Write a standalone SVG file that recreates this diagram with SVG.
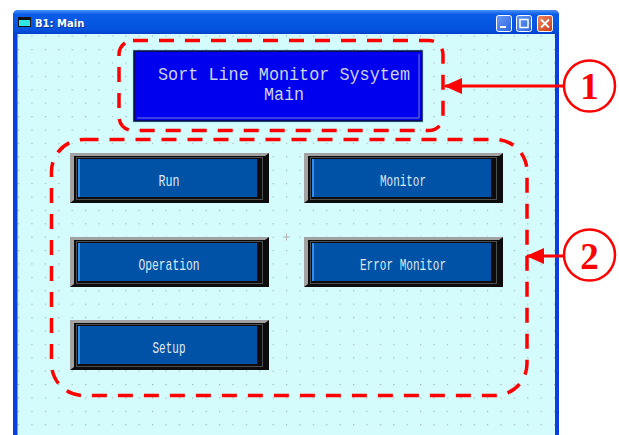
<svg xmlns="http://www.w3.org/2000/svg" width="619" height="435" viewBox="0 0 619 435">
  <defs>
    <linearGradient id="titleGrad" x1="0" y1="0" x2="0" y2="1">
      <stop offset="0" stop-color="#4a92fa"/>
      <stop offset="0.18" stop-color="#0a5ce8"/>
      <stop offset="0.8" stop-color="#0452de"/>
      <stop offset="1" stop-color="#003cc4"/>
    </linearGradient>
    <linearGradient id="btnBlue" x1="0" y1="0" x2="1" y2="1">
      <stop offset="0" stop-color="#6a9cf8"/>
      <stop offset="1" stop-color="#2a62e0"/>
    </linearGradient>
    <linearGradient id="btnRed" x1="0" y1="0" x2="1" y2="1">
      <stop offset="0" stop-color="#f08a60"/>
      <stop offset="1" stop-color="#c83a18"/>
    </linearGradient>
    <pattern id="grid" x="18" y="49" width="13.4" height="13.4" patternUnits="userSpaceOnUse">
      <rect x="0" y="0" width="1.2" height="1.2" fill="#9fb4b4"/>
    </pattern>
    <marker id="arrowHead" viewBox="0 0 18 16" refX="17" refY="8" markerWidth="18" markerHeight="16" markerUnits="userSpaceOnUse" orient="auto">
      <polygon points="0,0 18,8 0,16" fill="#ff0000"/>
    </marker>
    <style>
      .btn-text { font-family: "Liberation Mono", "DejaVu Sans Mono", monospace; font-size: 17px; fill: #dfe8f6; text-anchor: middle; }
      .head-text { font-family: "Liberation Mono", "DejaVu Sans Mono", monospace; font-size: 18px; fill: #cdd4f4; text-anchor: middle; }
      .callout { fill: none; stroke: #ff0000; stroke-width: 3.5; stroke-dasharray: 15 11; }
      .badge { fill: #ffffff; stroke: #ff0000; stroke-width: 2.5; }
      .badge-num { font-family: "Liberation Serif", "DejaVu Serif", serif; font-weight: bold; font-size: 37px; fill: #ff0000; text-anchor: middle; }
      .lead { stroke: #ff0000; stroke-width: 3; fill: none; }
      .frame-hi { fill: #a2a2a2; }
      .frame-lo { fill: #0c0c0c; }
      .face { fill: #0052a6; }
      .face-edge { fill: #2e8ff0; }
    </style>
  </defs>

  <rect x="0" y="0" width="619" height="435" fill="#ffffff"/>

  <!-- application window -->
  <g id="window">
    <rect x="13" y="10" width="546" height="430" rx="5" fill="#0a3ee0"/>
    <rect x="13" y="10" width="546" height="25" rx="5" fill="url(#titleGrad)"/>
    <rect x="17" y="34" width="538" height="406" fill="#d5fcfc"/>
    <rect x="17" y="34" width="538" height="406" fill="url(#grid)"/>
    <line x1="17.5" y1="34" x2="17.5" y2="435" stroke="#8a9a9a" stroke-width="1"/>
    <!-- title icon and caption -->
    <rect x="18" y="17" width="13" height="10" fill="#111111"/>
    <rect x="19" y="20" width="11" height="6" fill="#2ee6e6"/>
    <text x="36" y="28" font-family="'DejaVu Sans', 'Liberation Sans', sans-serif" font-size="10" font-weight="bold" fill="#0a2a80" opacity="0.7">B1: Main</text>
    <text x="35" y="27" font-family="'DejaVu Sans', 'Liberation Sans', sans-serif" font-size="10" font-weight="bold" fill="#ffffff">B1: Main</text>
    <!-- caption buttons -->
    <rect x="496.5" y="15.5" width="15" height="16" rx="2" fill="url(#btnBlue)" stroke="#ffffff" stroke-width="1"/>
    <rect x="500" y="26" width="6" height="2" fill="#ffffff"/>
    <rect x="516.5" y="15.5" width="15" height="16" rx="2" fill="url(#btnBlue)" stroke="#ffffff" stroke-width="1"/>
    <rect x="520" y="19.5" width="8" height="8" fill="none" stroke="#ffffff" stroke-width="1.5"/>
    <rect x="537.5" y="15.5" width="15" height="16" rx="2" fill="url(#btnRed)" stroke="#ffffff" stroke-width="1"/>
    <path d="M541,19.5 L549,27.5 M549,19.5 L541,27.5" stroke="#ffffff" stroke-width="1.8"/>
    <!-- center mark -->
    <path d="M283,237 L290,237 M286.5,233.5 L286.5,240.5" stroke="#b4b4b4" stroke-width="1"/>
  </g>

  <!-- header panel -->
  <g id="header">
    <rect x="134" y="51" width="288" height="70" fill="#0000ee" stroke="#0a0a50" stroke-width="2"/>
    <rect x="133" y="50" width="290" height="72" fill="none" stroke="#7fdede" stroke-width="0.8" opacity="0.7"/>
    <path d="M137,118 L419,118 L419,54" fill="none" stroke="#7a7ad6" stroke-width="1"/>
    <text class="head-text" x="284" y="80" textLength="252" lengthAdjust="spacingAndGlyphs">Sort Line Monitor Sysytem</text>
    <text class="head-text" x="284" y="100" textLength="40" lengthAdjust="spacingAndGlyphs">Main</text>
  </g>

  <!-- push buttons -->
  <g id="btn-run">
    <rect class="frame-lo" x="70" y="153" width="199" height="50"/>
    <path class="frame-hi" d="M70,203 L70,153 L269,153 L265,156 L74,156 L74,200 Z"/>
    <rect x="76.5" y="157.5" width="186" height="42" fill="none" stroke="#4e4e4e" stroke-width="1"/>
    <rect class="face" x="78" y="159" width="179" height="38"/>
    <rect class="face-edge" x="78" y="159" width="2" height="38"/>
    <text class="btn-text" x="169" y="186" textLength="21" lengthAdjust="spacingAndGlyphs">Run</text>
  </g>

  <g id="btn-monitor">
    <rect class="frame-lo" x="304" y="153" width="199" height="50"/>
    <path class="frame-hi" d="M304,203 L304,153 L503,153 L499,156 L308,156 L308,200 Z"/>
    <rect x="310.5" y="157.5" width="186" height="42" fill="none" stroke="#4e4e4e" stroke-width="1"/>
    <rect class="face" x="312" y="159" width="179" height="38"/>
    <rect class="face-edge" x="312" y="159" width="2" height="38"/>
    <text class="btn-text" x="403" y="186" textLength="46" lengthAdjust="spacingAndGlyphs">Monitor</text>
  </g>

  <g id="btn-operation">
    <rect class="frame-lo" x="70" y="237" width="199" height="50"/>
    <path class="frame-hi" d="M70,287 L70,237 L269,237 L265,240 L74,240 L74,284 Z"/>
    <rect x="76.5" y="241.5" width="186" height="42" fill="none" stroke="#4e4e4e" stroke-width="1"/>
    <rect class="face" x="78" y="243" width="179" height="38"/>
    <rect class="face-edge" x="78" y="243" width="2" height="38"/>
    <text class="btn-text" x="169" y="270" textLength="61" lengthAdjust="spacingAndGlyphs">Operation</text>
  </g>

  <g id="btn-error-monitor">
    <rect class="frame-lo" x="304" y="237" width="199" height="50"/>
    <path class="frame-hi" d="M304,287 L304,237 L503,237 L499,240 L308,240 L308,284 Z"/>
    <rect x="310.5" y="241.5" width="186" height="42" fill="none" stroke="#4e4e4e" stroke-width="1"/>
    <rect class="face" x="312" y="243" width="179" height="38"/>
    <rect class="face-edge" x="312" y="243" width="2" height="38"/>
    <text class="btn-text" x="403" y="270" textLength="86" lengthAdjust="spacingAndGlyphs">Error Monitor</text>
  </g>

  <g id="btn-setup">
    <rect class="frame-lo" x="70" y="320" width="199" height="50"/>
    <path class="frame-hi" d="M70,370 L70,320 L269,320 L265,323 L74,323 L74,367 Z"/>
    <rect x="76.5" y="324.5" width="186" height="42" fill="none" stroke="#4e4e4e" stroke-width="1"/>
    <rect class="face" x="78" y="326" width="179" height="38"/>
    <rect class="face-edge" x="78" y="326" width="2" height="38"/>
    <text class="btn-text" x="169" y="353" textLength="33" lengthAdjust="spacingAndGlyphs">Setup</text>
  </g>

  <!-- callout outlines -->
  <g id="callout-1">
    <rect class="callout" x="119" y="40.5" width="324" height="90" rx="14"/>
  </g>
  <g id="callout-2">
    <rect class="callout" x="51.5" y="139.5" width="475.5" height="256" rx="32"/>
  </g>

  <!-- numbered badges -->
  <g id="badge-1">
    <circle class="badge" cx="589.5" cy="86" r="25.5"/>
    <text class="badge-num" x="589.5" y="99">1</text>
  </g>
  <g id="badge-2">
    <circle class="badge" cx="589.5" cy="255" r="25.5"/>
    <text class="badge-num" x="589.5" y="269">2</text>
  </g>

  <!-- leader arrows -->
  <g id="connectors">
    <line class="lead" x1="564" y1="86" x2="445" y2="86" marker-end="url(#arrowHead)"/>
    <line class="lead" x1="564" y1="256" x2="527" y2="256" marker-end="url(#arrowHead)"/>
  </g>
</svg>
